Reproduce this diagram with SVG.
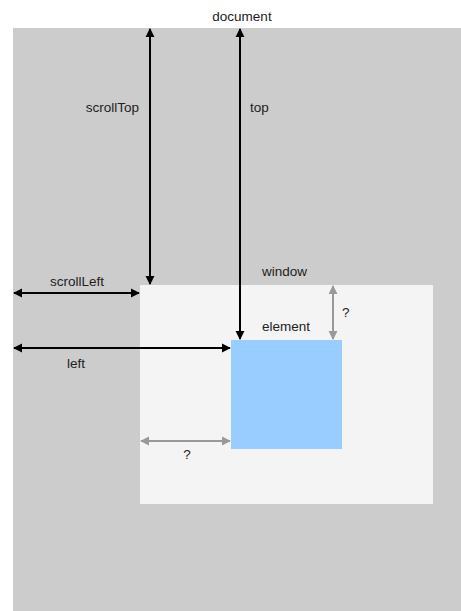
<svg xmlns="http://www.w3.org/2000/svg" width="461" height="611" viewBox="0 0 461 611">
<style>
text{font-family:"Liberation Sans",Arial,sans-serif;font-size:13.5px;fill:#222}
.b{stroke:#000;stroke-width:2;fill:none}
.g{stroke:#999;stroke-width:2;fill:none}
</style>
<defs>
<marker id="ab" viewBox="0 0 10 10" refX="9" refY="5" markerWidth="4.5" markerHeight="5" orient="auto-start-reverse" markerUnits="strokeWidth"><path d="M0,0L10,5L0,10z" fill="#000"/></marker>
<marker id="ag" viewBox="0 0 10 10" refX="9" refY="5" markerWidth="4.5" markerHeight="5" orient="auto-start-reverse" markerUnits="strokeWidth"><path d="M0,0L10,5L0,10z" fill="#999"/></marker>
</defs>
<rect width="461" height="611" fill="#fff"/>
<g id="document"><rect x="13" y="28" width="448" height="583" fill="#ccc"/><text x="242" y="21" text-anchor="middle">document</text></g>
<g id="window"><rect x="140" y="285" width="293" height="219" fill="#f4f4f4"/><text x="262" y="276">window</text></g>
<g id="element"><rect x="231" y="340" width="111" height="109" fill="#99ccff"/><text x="262" y="331">element</text></g>
<g id="connectors">
<line class="b" x1="150" y1="29" x2="150" y2="284" marker-start="url(#ab)" marker-end="url(#ab)"/>
<line class="b" x1="240" y1="29" x2="240" y2="339" marker-start="url(#ab)" marker-end="url(#ab)"/>
<line class="b" x1="14" y1="293" x2="139" y2="293" marker-start="url(#ab)" marker-end="url(#ab)"/>
<line class="b" x1="14" y1="348" x2="230" y2="348" marker-start="url(#ab)" marker-end="url(#ab)"/>
<line class="g" x1="333" y1="286" x2="333" y2="339" marker-start="url(#ag)" marker-end="url(#ag)"/>
<line class="g" x1="141" y1="441" x2="230" y2="441" marker-start="url(#ag)" marker-end="url(#ag)"/>
</g>
<g id="labels">
<text x="139" y="112" text-anchor="end">scrollTop</text>
<text x="250" y="112">top</text>
<text x="77" y="286" text-anchor="middle">scrollLeft</text>
<text x="76" y="368" text-anchor="middle">left</text>
<text x="342" y="317">?</text>
<text x="187" y="459" text-anchor="middle">?</text>
</g>
</svg>
